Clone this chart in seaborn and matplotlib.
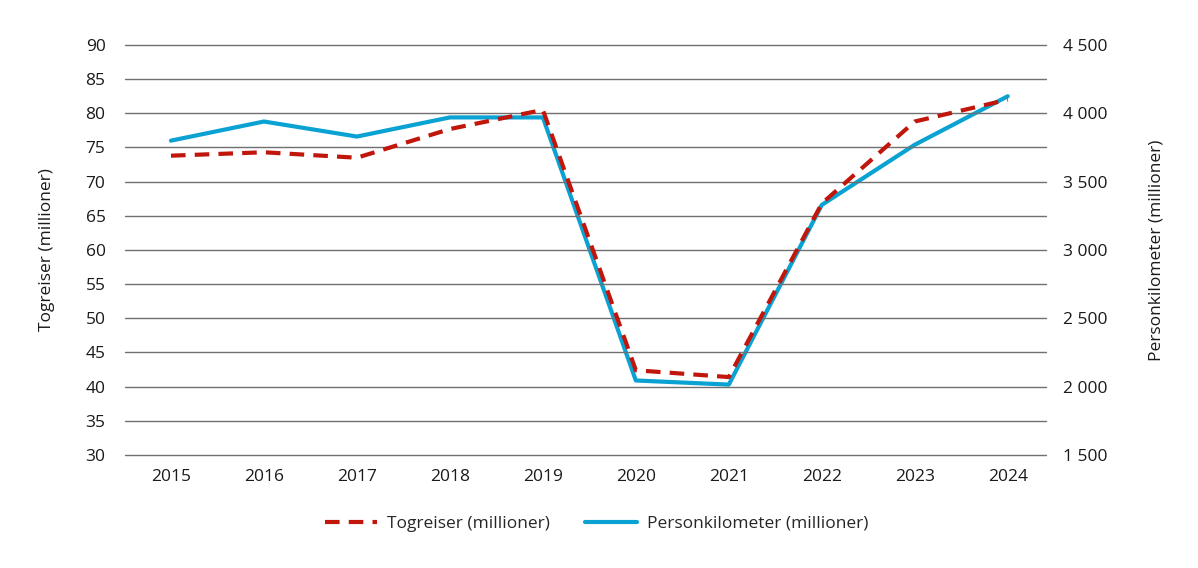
import matplotlib
matplotlib.use("Agg")
import matplotlib.pyplot as plt
import seaborn as sns
import pandas as pd
from matplotlib.ticker import FuncFormatter

years = ["2015", "2016", "2017", "2018", "2019", "2020", "2021", "2022", "2023", "2024"]
togreiser = [73.8, 74.3, 73.5, 77.7, 80.5, 42.4, 41.4, 66.8, 78.8, 82.0]
personkm = [3800, 3940, 3830, 3970, 3970, 2045, 2015, 3330, 3770, 4125]
left_ticks = [30, 35, 40, 45, 50, 55, 60, 65, 70, 75, 80, 85, 90]
right_ticks = [1500, 2000, 2500, 3000, 3500, 4000, 4500]

sns.set_theme(style="white")
plt.rcParams['font.family'] = ['Open Sans', 'DejaVu Sans']

df = pd.DataFrame({"year": years, "tog": togreiser, "pkm": personkm})
df["idx"] = range(len(years))

fig = plt.figure(figsize=(11.98, 5.68), dpi=100)
ax = fig.add_axes([0.1043, 0.199, 0.873 - 0.1043, 0.9208 - 0.199])
ax2 = ax.twinx()

red = "#C0160C"
blue = "#0AA2D3"

sns.lineplot(data=df, x="idx", y="tog", ax=ax, color=red, linewidth=3,
             linestyle=(0, (3.5, 2.2)), label="Togreiser (millioner)", legend=False)
sns.lineplot(data=df, x="idx", y="pkm", ax=ax2, color=blue, linewidth=3,
             label="Personkilometer (millioner)", legend=False)

ax.set_ylim(30, 90)
ax2.set_ylim(1500, 4500)
ax.set_yticks(left_ticks)
ax2.set_yticks(right_ticks)
ax.set_xlim(-0.495, 9.41)
ax.set_xticks(range(len(years)))
ax.set_xticklabels(years)
ax2.yaxis.set_major_formatter(FuncFormatter(lambda v, p: f"{int(v):,}".replace(",", " ")))

ax.grid(axis="y", color="#707070", linewidth=1)
ax.set_axisbelow(True)
ax.grid(axis="x", visible=False)
ax2.grid(False)
for gl in ax.get_ygridlines():
    gl.set_clip_on(False)
for a in (ax, ax2):
    for s in a.spines.values():
        s.set_visible(False)
    a.tick_params(axis="both", length=0, labelsize=12.5, colors="#1a1a1a")
ax.tick_params(axis="x", pad=10)
ax.tick_params(axis="y", pad=14)
ax2.tick_params(axis="y", pad=12)

ax.set_xlabel("")
ax.set_ylabel("Togreiser (millioner)", fontsize=12.5, labelpad=22, color="#1a1a1a")
ax2.set_ylabel("Personkilometer (millioner)", fontsize=12.5, labelpad=30, color="#1a1a1a")
ax.set_zorder(ax2.get_zorder() + 1)
ax.patch.set_visible(False)

h1, l1 = ax.get_legend_handles_labels()
h2, l2 = ax2.get_legend_handles_labels()
fig.legend(h1 + h2, l1 + l2, loc="center", bbox_to_anchor=(0.498, 0.078), ncol=2,
           frameon=False, fontsize=12.5, handlelength=3, columnspacing=2.0, handletextpad=0.6)

fig.savefig("out.png", dpi=100)
